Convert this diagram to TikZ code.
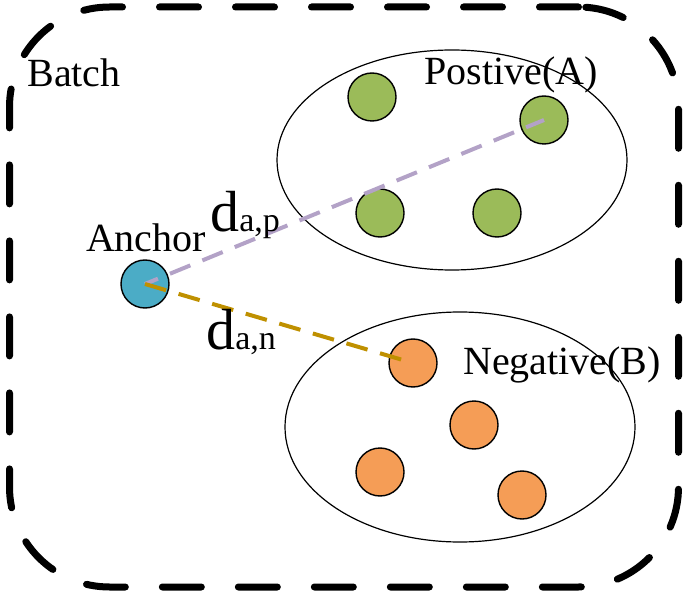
\documentclass[tikz,border=0pt]{standalone}
\usepackage{fontspec}
\setmainfont{Liberation Serif}
\usetikzlibrary{shapes.geometric}
\definecolor{posGreen}{HTML}{9BBB59}
\definecolor{anchorBlue}{HTML}{4BACC6}
\definecolor{negOrange}{HTML}{F59D56}
\definecolor{distPurple}{HTML}{B3A2C7}
\definecolor{distGold}{HTML}{BF9000}

\begin{document}
\begin{tikzpicture}[
  x=0.5pt, y=-0.5pt,
  label/.style={inner sep=0pt, font=\fontsize{20pt}{22pt}\selectfont},
  dist/.style={inner sep=0pt, anchor=base west, font=\fontsize{29pt}{31pt}\selectfont},
  sample/.style={circle, draw=black, line width=0.7pt, minimum size=24pt, inner sep=0pt},
  group/.style={ellipse, draw=black, line width=0.6pt, minimum width=175pt, inner sep=0pt},
  distline/.style={line width=2pt, dash pattern=on 11pt off 6.5pt}
]
\useasboundingbox (0,0) rectangle (685,593);
% batch frame
\node[draw=black, line width=3.5pt, line cap=round, dash pattern=on 19.5pt off 18.5pt,
      rounded corners=50pt, minimum width=334.5pt, minimum height=290pt, inner sep=0pt]
      (batch) at (344,297) {};
\node[label] (batchlbl) at (74,73) {Batch};
% positive and negative groups
\node[group, minimum height=110pt] (posgrp) at (452,160) {};
\node[group, minimum height=115pt] (neggrp) at (460,427) {};
\node[label] (poslbl) at (511,75) {Postive(A)};
\node[label] (neglbl) at (562,365) {Negative(B)};
% samples
\node[sample, fill=posGreen] (p1) at (372,97) {};
\node[sample, fill=posGreen] (p2) at (544,120) {};
\node[sample, fill=posGreen] (p3) at (380,213) {};
\node[sample, fill=posGreen] (p4) at (497,213) {};
\node[sample, fill=negOrange] (n1) at (413,363) {};
\node[sample, fill=negOrange] (n2) at (474,425) {};
\node[sample, fill=negOrange] (n3) at (380,472) {};
\node[sample, fill=negOrange] (n4) at (522,495) {};
\node[sample, fill=anchorBlue] (anchor) at (145,284) {};
\node[label] (anchorlbl) at (146,238) {Anchor};
% distances
\draw[distline, draw=distPurple, dash phase=4pt] (anchor.center) -- (p2.center);
\draw[distline, draw=distGold] (anchor.center) -- (n1.center);
\node[dist] (dap) at (210,232) {d{\fontsize{17pt}{19pt}\selectfont a,p}};
\node[dist] (dan) at (206,349) {d{\fontsize{17pt}{19pt}\selectfont a,n}};
\end{tikzpicture}
\end{document}
